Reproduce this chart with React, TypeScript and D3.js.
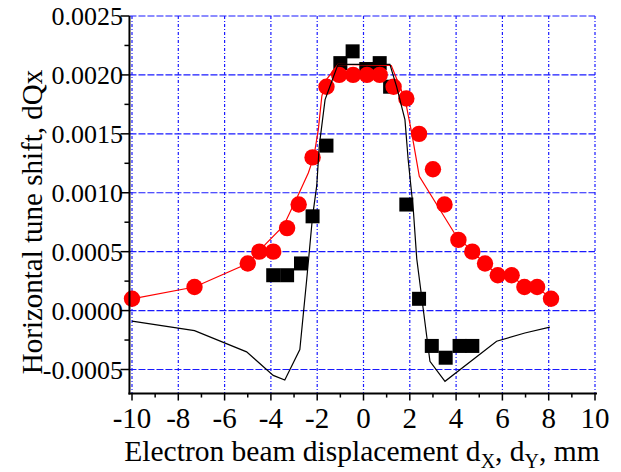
import React from "react";
import * as d3 from "d3";

// measured points (red circles, black squares)
const redX = [-10, -7.3, -5.0, -4.5, -3.9, -3.3, -2.8, -2.2, -1.6, -1.05, -0.45, 0.15, 0.7, 1.3, 1.85, 2.4, 3.0, 3.5, 4.1, 4.7, 5.25, 5.8, 6.4, 6.95, 7.5, 8.1];
const redY = [0.0001, 0.0002, 0.0004, 0.0005, 0.0005, 0.0007, 0.0009, 0.0013, 0.0019, 0.0020, 0.0020, 0.0020, 0.0020, 0.0019, 0.0018, 0.0015, 0.0012, 0.0009, 0.0006, 0.0005, 0.0004, 0.0003, 0.0003, 0.0002, 0.0002, 0.0001];

const blackX = [-3.9, -3.3, -2.7, -2.2, -1.6, -1.0, -0.47, 0.12, 0.7, 1.15, 1.85, 2.4, 2.95, 3.55, 4.15, 4.7];
const blackY = [0.0003, 0.0003, 0.0004, 0.0008, 0.0014, 0.0021, 0.0022, 0.00205, 0.0021, 0.0019, 0.0009, 0.0001, -0.0003, -0.0004, -0.0003, -0.0003];

// model curves
const redLineX = [-10, -7.3, -5.0, -4.5, -4.25, -3.45, -2.8, -2.38, -2.14, -1.95, -1.8, -1.6, -1.1, 1.2, 1.8, 2.08, 2.41, 3.95, 4.7, 5.25, 5.8, 6.4, 6.95, 7.5, 8.1];
const redLineY = [0.0001, 0.0002, 0.0004, 0.0005, 0.00056, 0.00072, 0.00099, 0.00117, 0.00131, 0.00154, 0.00182, 0.00196, 0.00209, 0.00208, 0.00179, 0.00151, 0.00114, 0.00065, 0.0005, 0.0004, 0.0003, 0.0003, 0.0002, 0.0002, 0.0001];

const blackLineX = [-10, -7.3, -5.05, -3.9, -3.4, -2.75, -2.45, -2.2, -2.02, -1.91, -1.66, -1.1, 1.14, 1.43, 1.79, 1.93, 2.15, 2.3, 2.87, 3.52, 5.75, 6.97, 8.05];
const blackLineY = [-0.00009, -0.00017, -0.00035, -0.00055, -0.00059, -0.00033, 0.00027, 0.0008, 0.00106, 0.0014, 0.00179, 0.00209, 0.00209, 0.0019, 0.00162, 0.00128, 0.00086, 0.00044, -0.00043, -0.0006, -0.00026, -0.00019, -0.00014];

const xTicks = [-10, -8, -6, -4, -2, 0, 2, 4, 6, 8, 10];
const xMinor = [-9, -7, -5, -3, -1, 1, 3, 5, 7, 9];
const yTicks = [-0.0005, 0, 0.0005, 0.001, 0.0015, 0.002, 0.0025];
const yMinor = [-0.00025, 0.00025, 0.00075, 0.00125, 0.00175, 0.00225];

const W = 621, H = 472;
const font = "'Liberation Serif', 'Times New Roman', serif";

export default function App() {
  const x = d3.scaleLinear().domain([-10, 10]).range([132, 595]);
  const y = d3.scaleLinear().domain([-0.0005, 0.0025]).range([369.5, 16]);
  const x0 = x(-10.11), yBot = y(-0.000704);

  const line = d3.line<[number, number]>().x(d => x(d[0])).y(d => y(d[1]));
  const redPath = line(redLineX.map((v, i) => [v, redLineY[i]]));
  const blackPath = line(blackLineX.map((v, i) => [v, blackLineY[i]]));
  const fmt = (v: number) => (v < 0 ? "-" : "") + Math.abs(v).toFixed(4);
  const sq = 14;

  return (
    <svg width={W} height={H} style={{ position: "absolute", left: 0, top: 0, background: "#fff" }} fontFamily={font}>
      {/* grid */}
      {yTicks.map(t => (
        <line key={"gy" + t} x1={x0} x2={x(10)} y1={y(t)} y2={y(t)} stroke="#1a1aff" strokeWidth={1.2} strokeDasharray="7,2" />
      ))}
      {xTicks.map(t => (
        <line key={"gx" + t} x1={x(t)} x2={x(t)} y1={y(0.0025)} y2={yBot} stroke="#1a1aff" strokeWidth={1.2} strokeDasharray="3,2,1,2" />
      ))}

      {/* squares */}
      {blackX.map((v, i) => (
        <rect key={"s" + i} x={x(v) - sq / 2} y={y(blackY[i]) - sq / 2} width={sq} height={sq} fill="#000" />
      ))}
      {/* circles */}
      {redX.map((v, i) => (
        <circle key={"c" + i} cx={x(v)} cy={y(redY[i])} r={8.2} fill="#ff0000" />
      ))}
      <path d={redPath ?? ""} fill="none" stroke="#ff0000" strokeWidth={1.2} />
      <path d={blackPath ?? ""} fill="none" stroke="#000" strokeWidth={1.2} />

      {/* axes */}
      <line x1={x0} x2={x0} y1={y(0.0025)} y2={yBot + 1} stroke="#000" strokeWidth={2} />
      <line x1={x0 - 1} x2={x(10) + 2} y1={yBot} y2={yBot} stroke="#000" strokeWidth={2} />
      {yTicks.map(t => (
        <line key={"ty" + t} x1={x0 - 9} x2={x0} y1={y(t)} y2={y(t)} stroke="#000" strokeWidth={1.5} />
      ))}
      {yMinor.map(t => (
        <line key={"my" + t} x1={x0 - 5} x2={x0} y1={y(t)} y2={y(t)} stroke="#000" strokeWidth={1.5} />
      ))}
      {xTicks.map(t => (
        <line key={"tx" + t} x1={x(t)} x2={x(t)} y1={yBot} y2={yBot + 7} stroke="#000" strokeWidth={1.5} />
      ))}
      {xMinor.map(t => (
        <line key={"mx" + t} x1={x(t)} x2={x(t)} y1={yBot} y2={yBot + 4} stroke="#000" strokeWidth={1.5} />
      ))}

      {/* tick labels */}
      {yTicks.map(t => (
        <text key={"ly" + t} x={x0 - 6.5} y={y(t)} dy="0.35em" textAnchor="end" fontSize={26}>{fmt(t)}</text>
      ))}
      {xTicks.map(t => (
        <text key={"lx" + t} x={x(t)} y={428} textAnchor="middle" fontSize={29}>{t}</text>
      ))}

      {/* titles */}
      <text x={362} y={461} textAnchor="middle" fontSize={29.5}>
        Electron beam displacement d<tspan fontSize={20} dy={7}>X</tspan><tspan dy={-7}>, d</tspan><tspan fontSize={20} dy={7}>Y</tspan><tspan dy={-7}>, mm</tspan>
      </text>
      <text transform="translate(42,222) rotate(-90)" textAnchor="middle" fontSize={29}>Horizontal tune shift, dQx</text>
    </svg>
  );
}
